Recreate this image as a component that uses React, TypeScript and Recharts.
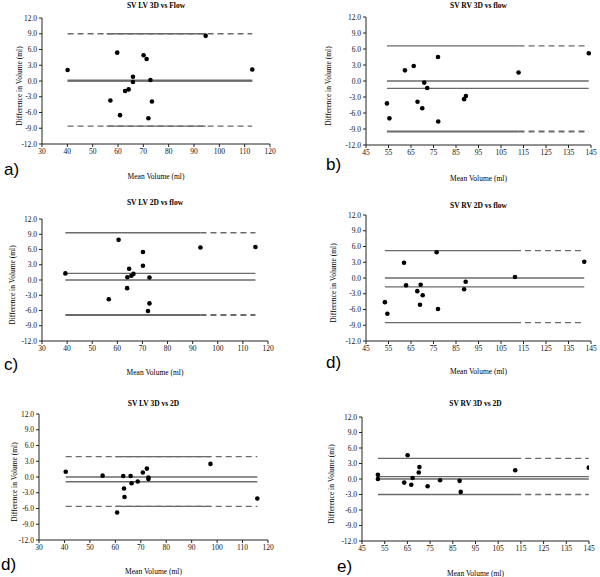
import React from "react";
import {
  ScatterChart,
  Scatter,
  XAxis,
  YAxis,
  ReferenceLine,
} from "recharts";

const LV_TICKS = [30, 40, 50, 60, 70, 80, 90, 100, 110, 120];
const RV_TICKS = [45, 55, 65, 75, 85, 95, 105, 115, 125, 135, 145];
const DIFF_TICKS = [-12, -9, -6, -3, 0, 3, 6, 9, 12];

// a) SV LV 3D vs Flow
const aMean = [40.1, 59.7, 70.1, 71.3, 94.6, 113, 65.9, 65.9, 72.8, 62.8, 64.2, 57, 73.4, 60.8, 72];
const aDiff = [2.1, 5.4, 4.9, 4.2, 8.6, 2.2, 0.8, -0.2, 0.2, -1.9, -1.6, -3.7, -3.9, -6.5, -7.1];
const aLimits = [
  { y: 9.0, solid: [55.5, 94.6], dash: [40.1, 113] },
  { y: 0.1, solid: [40.1, 113], w: 2 },
  { y: 0, solid: [40.1, 113] },
  { y: -8.6, solid: [55.5, 94.6], dash: [40.1, 113] },
];

// b) SV RV 3D vs flow
const bMean = [54.3, 55.4, 62.3, 66.2, 77, 70.9, 72.2, 67.9, 70, 77.1, 88.6, 89.4, 112.8, 144];
const bDiff = [-4.2, -7.0, 2.0, 2.8, 4.5, -0.3, -1.3, -3.9, -5.1, -7.6, -3.4, -2.8, 1.6, 5.2];
const bLimits = [
  { y: 6.6, solid: [54.3, 112.8], dash: [112.8, 144] },
  { y: 0, solid: [54.3, 144] },
  { y: -1.4, solid: [54.3, 144] },
  { y: -9.45, solid: [54.3, 112.8], dash: [112.8, 144], w: 2 },
];

// c) SV LV 2D vs flow
const cMean = [39.3, 60.5, 93.1, 115, 70.2, 70.2, 64.7, 64, 65.6, 66.4, 72.8, 63.9, 56.6, 72.8, 72.2];
const cDiff = [1.3, 7.9, 6.4, 6.5, 5.5, 2.8, 2.2, 0.55, 0.85, 1.2, 0.5, -1.6, -3.8, -4.6, -6.1];
const cLimits = [
  { y: 9.3, solid: [39.3, 93.1], dash: [93.1, 115] },
  { y: 1.3, solid: [39.3, 115] },
  { y: 0, solid: [39.3, 115] },
  { y: -6.9, solid: [39.3, 93.1], dash: [93.1, 115], w: 2 },
];

// d) SV RV 2D vs flow
const dMean = [53.4, 54.5, 61.9, 62.8, 76.4, 69.3, 67.8, 70.2, 69, 77, 88.6, 89.3, 111.2, 142];
const dDiff = [-4.6, -6.8, 2.9, -1.4, 4.9, -1.3, -2.5, -3.3, -5.1, -5.9, -2.15, -0.7, 0.2, 3.1];
const dLimits = [
  { y: 5.2, solid: [53.4, 111.2], dash: [111.2, 142] },
  { y: 0, solid: [53.4, 142] },
  { y: -1.7, solid: [53.4, 142] },
  { y: -8.5, solid: [53.4, 111.2], dash: [111.2, 142] },
];

// d) SV LV 3D vs 2D
const eMean = [40.5, 55, 63.1, 66, 63.4, 63.6, 60.7, 66.4, 68.8, 70.8, 72.4, 73, 73, 97.4, 115.8];
const eDiff = [1.0, 0.26, 0.2, 0.2, -2.2, -3.8, -6.75, -1.2, -0.85, 0.85, 1.6, -0.1, -0.4, 2.5, -4.1];
const eLimits = [
  { y: 3.9, solid: [60, 97.4], dash: [40.5, 115.8] },
  { y: 0, solid: [40.5, 115.8] },
  { y: -0.9, solid: [40.5, 115.8] },
  { y: -5.6, solid: [60, 97.4], dash: [40.5, 115.8] },
];

// e) SV RV 3D vs 2D
const fMean = [52, 52, 65.1, 63.6, 66.7, 67.3, 70, 70.3, 73.9, 79.4, 88, 88.5, 112.5, 144.9];
const fDiff = [0.8, 0, 4.6, -0.7, -1.1, 0.2, 1.26, 2.3, -1.4, -0.24, -0.36, -2.5, 1.7, 2.2];
const fLimits = [
  { y: 4.0, solid: [52, 112.5], dash: [112.5, 144.9] },
  { y: 0.45, solid: [52, 144.9] },
  { y: 0, solid: [52, 144.9] },
  { y: -3.0, solid: [52, 112.5], dash: [112.5, 144.9] },
];

const SERIF = "'Liberation Serif', 'DejaVu Serif', serif";
const LINE = "#6a6a6a";

type Limit = { y: number; solid: number[]; dash?: number[]; w?: number };

interface PanelProps {
  box: [number, number, number, number]; // plot left, top, right, bottom on page
  xTicks: number[];
  mean: number[];
  diff: number[];
  limits: Limit[];
  title: string;
  titleY: number;
  xTitleY: number;
  yTitleX: number;
  tag: string;
  tagX: number;
  tagY: number;
}

const Dot = (p: any) => <circle cx={p.cx} cy={p.cy} r={2.3} fill="#000" />;

function Panel(props: PanelProps) {
  const [l, t, r, b] = props.box;
  const w = r - l;
  const h = b - t;
  const data = props.mean.map((x, i) => ({ x, y: props.diff[i] }));
  const xDomain = [props.xTicks[0], props.xTicks[props.xTicks.length - 1]];
  const cx = l + w / 2;
  const tick = { fontFamily: SERIF, fontSize: 7.5, fill: "#111", stroke: "none" };

  return (
    <>
      <div style={{ position: "absolute", left: l - 40, top: t - 10 }}>
        <ScatterChart
          width={w + 50}
          height={h + 35}
          margin={{ top: 10, right: 10, bottom: 15, left: 0 }}
        >
          <XAxis
            type="number"
            dataKey="x"
            domain={xDomain}
            ticks={props.xTicks}
            interval={0}
            tick={tick}
            tickSize={3}
            height={20}
            stroke="#222"
            allowDataOverflow
          />
          <YAxis
            type="number"
            dataKey="y"
            domain={[-12, 12]}
            ticks={DIFF_TICKS}
            interval={0}
            tick={tick}
            tickSize={3}
            width={40}
            stroke="#222"
            tickFormatter={(v: number) => v.toFixed(1)}
          />
          {props.limits.map((lm, i) => (
            <ReferenceLine
              key={"s" + i}
              segment={[
                { x: lm.solid[0], y: lm.y },
                { x: lm.solid[1], y: lm.y },
              ]}
              stroke={LINE}
              strokeWidth={lm.w ?? 1.3}
            />
          ))}
          {props.limits
            .filter((lm) => lm.dash)
            .map((lm, i) => (
              <ReferenceLine
                key={"d" + i}
                segment={[
                  { x: lm.dash![0], y: lm.y },
                  { x: lm.dash![1], y: lm.y },
                ]}
                stroke={LINE}
                strokeWidth={lm.w ?? 1.3}
                strokeDasharray="6 4"
              />
            ))}
          <Scatter data={data} shape={Dot} isAnimationActive={false} />
        </ScatterChart>
      </div>
      <div
        style={{
          position: "absolute",
          left: cx - 100,
          width: 200,
          top: props.titleY - 5,
          textAlign: "center",
          fontFamily: SERIF,
          fontWeight: "bold",
          fontSize: 7.5,
          lineHeight: "10px",
        }}
      >
        {props.title}
      </div>
      <div
        style={{
          position: "absolute",
          left: cx - 100,
          width: 200,
          top: props.xTitleY - 5,
          textAlign: "center",
          fontFamily: SERIF,
          fontSize: 7.5,
          lineHeight: "10px",
        }}
      >
        Mean Volume (ml)
      </div>
      <div
        style={{
          position: "absolute",
          left: props.yTitleX - 100,
          width: 200,
          top: t + h / 2 - 5,
          textAlign: "center",
          fontFamily: SERIF,
          fontSize: 7.5,
          lineHeight: "10px",
          transform: "rotate(-90deg)",
        }}
      >
        Difference in Volume (ml)
      </div>
      <div
        style={{
          position: "absolute",
          left: props.tagX,
          top: props.tagY - 10,
          fontFamily: "'Liberation Sans', Arial, sans-serif",
          fontSize: 17,
          lineHeight: "20px",
        }}
      >
        {props.tag}
      </div>
    </>
  );
}

export default function App() {
  return (
    <div
      style={{
        position: "absolute",
        left: 0,
        top: 0,
        width: 600,
        height: 577,
        background: "#fff",
        overflow: "hidden",
      }}
    >
      <Panel box={[42, 18, 270, 154]} xTicks={LV_TICKS} mean={aMean} diff={aDiff} limits={aLimits}
        title="SV LV 3D vs Flow" titleY={6} xTitleY={177} yTitleX={20} tag="a)" tagX={4} tagY={170} />
      <Panel box={[366, 17, 591, 155]} xTicks={RV_TICKS} mean={bMean} diff={bDiff} limits={bLimits}
        title="SV RV 3D vs flow" titleY={6} xTitleY={179} yTitleX={329} tag="b)" tagX={326} tagY={165} />
      <Panel box={[42, 219, 268, 351]} xTicks={LV_TICKS} mean={cMean} diff={cDiff} limits={cLimits}
        title="SV LV 2D vs flow" titleY={203} xTitleY={373} yTitleX={13} tag="c)" tagX={4} tagY={365} />
      <Panel box={[366, 215, 591, 351]} xTicks={RV_TICKS} mean={dMean} diff={dDiff} limits={dLimits}
        title="SV RV 2D vs flow" titleY={206} xTitleY={372} yTitleX={334} tag="d)" tagX={326} tagY={363} />
      <Panel box={[39, 414, 268, 550]} xTicks={LV_TICKS} mean={eMean} diff={eDiff} limits={eLimits}
        title="SV LV 3D vs 2D" titleY={404} xTitleY={572} yTitleX={15} tag="d)" tagX={1} tagY={565} />
      <Panel box={[362, 417, 589, 551]} xTicks={RV_TICKS} mean={fMean} diff={fDiff} limits={fLimits}
        title="SV RV 3D vs 2D" titleY={404} xTitleY={574} yTitleX={332} tag="e)" tagX={337} tagY={567} />
    </div>
  );
}
